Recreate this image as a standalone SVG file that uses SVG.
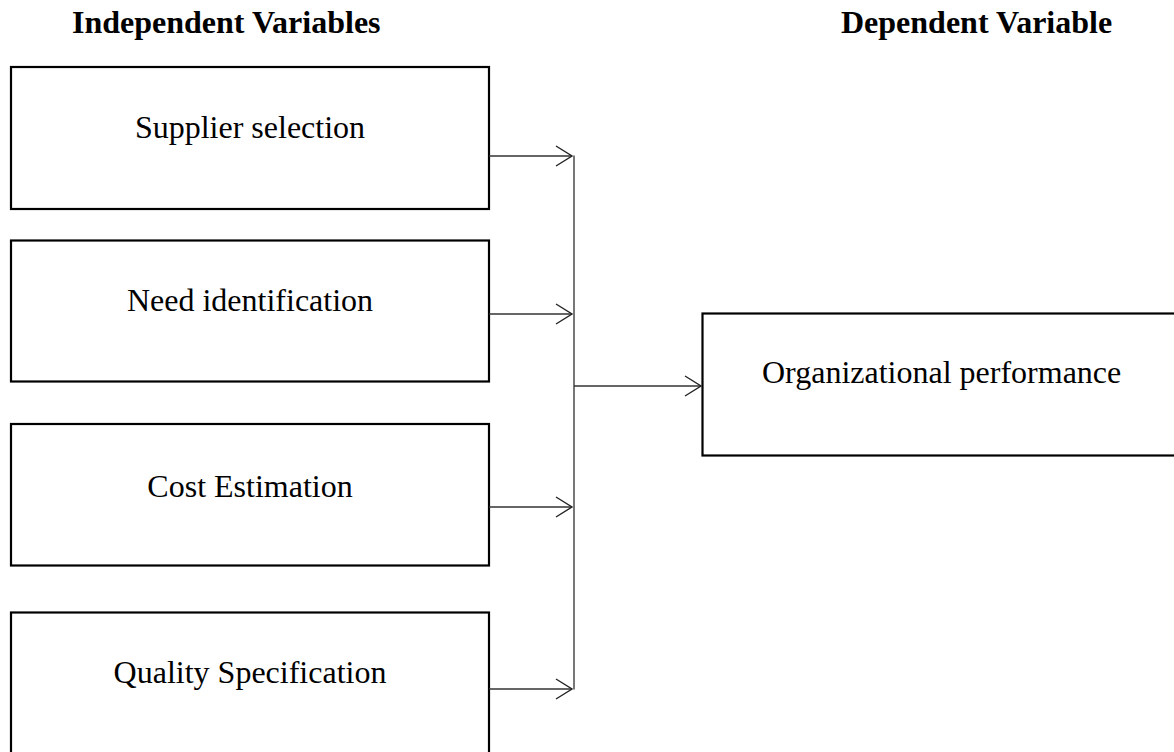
<svg xmlns="http://www.w3.org/2000/svg" width="1174" height="752" viewBox="0 0 1174 752">
  <style>
    .box { fill: #ffffff; stroke: #000000; stroke-width: 2.2; }
    .lbl { font-family: "Liberation Serif", "Times New Roman", serif; font-size: 32px; fill: #000000; }
    .hd { font-family: "Liberation Serif", "Times New Roman", serif; font-size: 32px; font-weight: bold; fill: #000000; }
    .conn { fill: none; stroke: #333333; stroke-width: 1.4; }
  </style>
  <defs>
    <marker id="arrow" markerUnits="userSpaceOnUse" markerWidth="20" markerHeight="24" refX="17" refY="11" orient="auto" overflow="visible">
      <path d="M1,1 L17,11 L1,21" fill="none" stroke="#222222" stroke-width="1.4"/>
    </marker>
  </defs>
  <rect width="1174" height="752" fill="#ffffff"/>

  <g id="headings">
    <text class="hd" x="72" y="33">Independent Variables</text>
    <text class="hd" x="841" y="33">Dependent Variable</text>
  </g>

  <g id="node-supplier">
    <rect class="box" x="11" y="67" width="478" height="142"/>
    <text class="lbl" x="250" y="138" text-anchor="middle">Supplier selection</text>
  </g>
  <g id="node-need">
    <rect class="box" x="11" y="240.5" width="478" height="141"/>
    <text class="lbl" x="250" y="311" text-anchor="middle">Need identification</text>
  </g>
  <g id="node-cost">
    <rect class="box" x="11" y="424" width="478" height="141.5"/>
    <text class="lbl" x="250" y="497" text-anchor="middle">Cost Estimation</text>
  </g>
  <g id="node-quality">
    <rect class="box" x="11" y="612.5" width="478" height="150"/>
    <text class="lbl" x="250" y="683" text-anchor="middle">Quality Specification</text>
  </g>
  <g id="node-org">
    <rect class="box" x="702.5" y="313.5" width="490" height="142"/>
    <text class="lbl" x="762" y="383">Organizational performance</text>
  </g>

  <g id="connectors">
    <line class="conn" x1="489" y1="156" x2="572" y2="156" marker-end="url(#arrow)"/>
    <line class="conn" x1="489" y1="314" x2="572" y2="314" marker-end="url(#arrow)"/>
    <line class="conn" x1="489" y1="507" x2="572" y2="507" marker-end="url(#arrow)"/>
    <line class="conn" x1="489" y1="689" x2="572" y2="689" marker-end="url(#arrow)"/>
    <line class="conn" x1="574" y1="155.5" x2="574" y2="689.5" style="stroke:#555555;stroke-width:1.6"/>
    <line class="conn" x1="574" y1="386" x2="701" y2="386" marker-end="url(#arrow)"/>
  </g>
</svg>
